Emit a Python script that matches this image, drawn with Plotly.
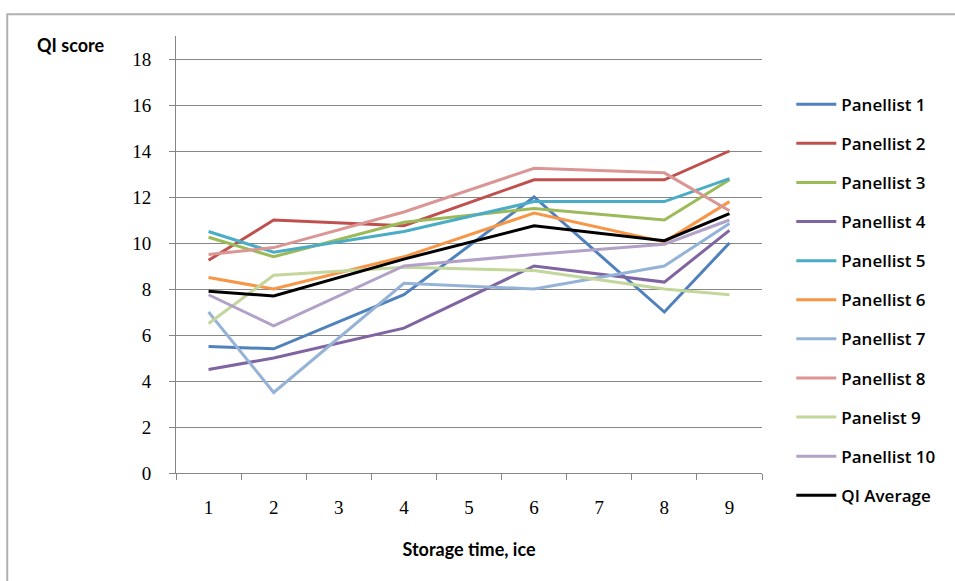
import plotly.graph_objects as go

# Storage days that were sampled (category axis shows 1..9)
all_days = ["1", "2", "3", "4", "5", "6", "7", "8", "9"]
sampled_days = ["1", "2", "4", "6", "8", "9"]

# QI scores per panellist at each sampled day
panellist_1 = [5.5, 5.4, 7.75, 12.0, 7.0, 10.0]
panellist_2 = [9.25, 11.0, 10.75, 12.75, 12.75, 14.0]
panellist_3 = [10.25, 9.4, 10.9, 11.5, 11.0, 12.75]
panellist_4 = [4.5, 5.0, 6.3, 9.0, 8.3, 10.55]
panellist_5 = [10.5, 9.6, 10.5, 11.8, 11.8, 12.8]
panellist_6 = [8.5, 8.0, 9.4, 11.3, 10.05, 11.8]
panellist_7 = [7.0, 3.5, 8.25, 8.0, 9.0, 10.85]
panellist_8 = [9.5, 9.8, 11.35, 13.25, 13.05, 11.4]
panellist_9 = [6.5, 8.6, 8.95, 8.8, 8.0, 7.75]
panellist_10 = [7.75, 6.4, 9.0, 9.5, 9.95, 11.0]
qi_average = [7.9, 7.7, 9.3, 10.75, 10.1, 11.28]

series_names = ["Panellist 1", "Panellist 2", "Panellist 3", "Panellist 4",
                "Panellist 5", "Panellist 6", "Panellist 7", "Panellist 8",
                "Panelist 9", "Panellist 10", "QI Average"]
series_values = [panellist_1, panellist_2, panellist_3, panellist_4,
                 panellist_5, panellist_6, panellist_7, panellist_8,
                 panellist_9, panellist_10, qi_average]
series_colors = ["#4F81BD", "#C0504D", "#9BBB59", "#8064A2", "#4BACC6",
                 "#F79646", "#95B3D7", "#D99694", "#C3D69B", "#B3A2C7",
                 "#000000"]

y_ticks = [0, 2, 4, 6, 8, 10, 12, 14, 16, 18]

fig = go.Figure()
for i, (name, vals, col) in enumerate(zip(series_names, series_values, series_colors)):
    fig.add_trace(go.Scatter(
        x=sampled_days, y=vals, name=name, mode="lines",
        line=dict(color=col, width=3),
        legendgroup=str(i),
    ))

axis_grey = "#868686"
fig.update_layout(
    width=955, height=581,
    margin=dict(l=176, r=193, t=36, b=108),
    paper_bgcolor="white", plot_bgcolor="white",
    showlegend=True,
    legend=dict(
        x=1.05, y=0.884, xanchor="left", yanchor="top",
        font=dict(family="Open Sans", size=17, color="#000000", weight=600),
        tracegroupgap=14, itemwidth=40, bgcolor="rgba(0,0,0,0)",
    ),
    xaxis=dict(
        type="category", categoryorder="array", categoryarray=all_days,
        tickvals=all_days, ticktext=all_days,
        tickson="boundaries", ticks="outside", ticklen=6, tickcolor=axis_grey,
        showline=True, linecolor=axis_grey, linewidth=1,
        showgrid=False, zeroline=False,
        tickfont=dict(family="Liberation Serif", size=19, color="#000000"),
        ticklabelstandoff=17,
        title=dict(text="<b>Storage time, ice</b>", standoff=26,
                   font=dict(family="Lato", size=18, color="#000000")),
        range=[-0.5, 8.5], fixedrange=True,
    ),
    yaxis=dict(
        range=[0, 19], tickvals=y_ticks, ticktext=[str(v) for v in y_ticks],
        ticks="outside", ticklen=6, tickcolor=axis_grey,
        showline=True, linecolor=axis_grey, linewidth=1,
        showgrid=True, gridcolor=axis_grey, gridwidth=1,
        zeroline=False,
        tickfont=dict(family="Liberation Serif", size=19, color="#000000"),
        ticklabelstandoff=14,
    ),
    annotations=[dict(
        text="<b>QI score</b>", xref="paper", yref="paper",
        x=-0.24, y=0.98, xanchor="left", yanchor="middle", showarrow=False,
        font=dict(family="Lato", size=18, color="#000000"),
    )],
    shapes=[dict(
        type="rect", xref="paper", yref="paper",
        x0=-0.288, x1=1.35, y0=-0.3, y1=1.05,
        line=dict(color="#B0B0B0", width=2), fillcolor="rgba(0,0,0,0)",
        layer="below",
    )],
)

fig.write_html("out.html")
